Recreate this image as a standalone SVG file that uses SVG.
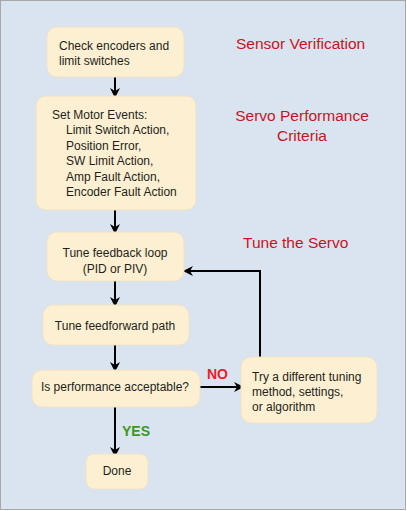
<svg xmlns="http://www.w3.org/2000/svg" width="407" height="511" viewBox="0 0 407 511">
<defs>
<marker id="ah" markerWidth="10" markerHeight="10" refX="9" refY="5" orient="auto" markerUnits="userSpaceOnUse">
<path d="M0,0 L10,5 L0,10 L3,5 Z" fill="#000"/>
</marker>
<style>
.n{fill:#fdf0d2;stroke:#f0e2c4;stroke-width:1}
.t{font-family:"Liberation Sans",Arial,sans-serif;font-size:12px;fill:#231f20}
.h{font-family:"Liberation Sans",Arial,sans-serif;font-size:15.5px;fill:#c8141e}
.c{fill:none;stroke:#000;stroke-width:2}
</style>
</defs>
<rect x="0" y="0" width="407" height="511" fill="#fff"/>
<rect x="0.5" y="0.5" width="405" height="509" fill="#d9e4f0" stroke="#a8a8a8" stroke-width="1"/>
<g id="labels">
<text class="h" x="236" y="49">Sensor Verification</text>
<text class="h" x="302" y="121" text-anchor="middle">Servo Performance</text>
<text class="h" x="302" y="141" text-anchor="middle">Criteria</text>
<text class="h" x="243" y="248">Tune the Servo</text>
</g>
<g id="connectors">
<line class="c" x1="115" y1="77" x2="115" y2="97" marker-end="url(#ah)"/>
<line class="c" x1="115" y1="210" x2="115" y2="233" marker-end="url(#ah)"/>
<line class="c" x1="115" y1="281" x2="115" y2="306" marker-end="url(#ah)"/>
<line class="c" x1="115" y1="345" x2="115" y2="371" marker-end="url(#ah)"/>
<line class="c" x1="115" y1="407" x2="115" y2="456" marker-end="url(#ah)"/>
<line class="c" x1="200" y1="387" x2="243" y2="387" marker-end="url(#ah)"/>
<polyline class="c" points="260,357 260,271 184,271" marker-end="url(#ah)"/>
<text x="207" y="379" font-family="Liberation Sans,Arial,sans-serif" font-size="14" font-weight="bold" fill="#ee1c24">NO</text>
<text x="122" y="436" font-family="Liberation Sans,Arial,sans-serif" font-size="14" font-weight="bold" fill="#3a9a1a">YES</text>
</g>
<g id="n1">
<rect class="n" x="47" y="27" width="137" height="50" rx="10"/>
<text class="t" x="59" y="50">Check encoders and</text>
<text class="t" x="59" y="65">limit switches</text>
</g>
<g id="n2">
<rect class="n" x="36" y="96" width="160" height="114" rx="10"/>
<text class="t" x="52" y="119">Set Motor Events:</text>
<text class="t" x="66" y="134">Limit Switch Action,</text>
<text class="t" x="66" y="150">Position Error,</text>
<text class="t" x="66" y="165">SW Limit Action,</text>
<text class="t" x="66" y="181">Amp Fault Action,</text>
<text class="t" x="66" y="196">Encoder Fault Action</text>
</g>
<g id="n3">
<rect class="n" x="47" y="232" width="137" height="49" rx="10"/>
<text class="t" x="115" y="257" text-anchor="middle">Tune feedback loop</text>
<text class="t" x="115" y="273" text-anchor="middle">(PID or PIV)</text>
</g>
<g id="n4">
<rect class="n" x="43" y="305" width="146" height="40" rx="10"/>
<text class="t" x="115" y="330" text-anchor="middle">Tune feedforward path</text>
</g>
<g id="n5">
<rect class="n" x="32" y="370" width="168" height="37" rx="10"/>
<text class="t" x="115" y="391" text-anchor="middle">Is performance acceptable?</text>
</g>
<g id="n6">
<rect class="n" x="241" y="357" width="136" height="66" rx="10"/>
<text class="t" x="252" y="381">Try a different tuning</text>
<text class="t" x="252" y="396">method, settings,</text>
<text class="t" x="252" y="411">or algorithm</text>
</g>
<g id="n7">
<rect class="n" x="86" y="454" width="62" height="35" rx="8"/>
<text class="t" x="117" y="475" text-anchor="middle">Done</text>
</g>
</svg>
